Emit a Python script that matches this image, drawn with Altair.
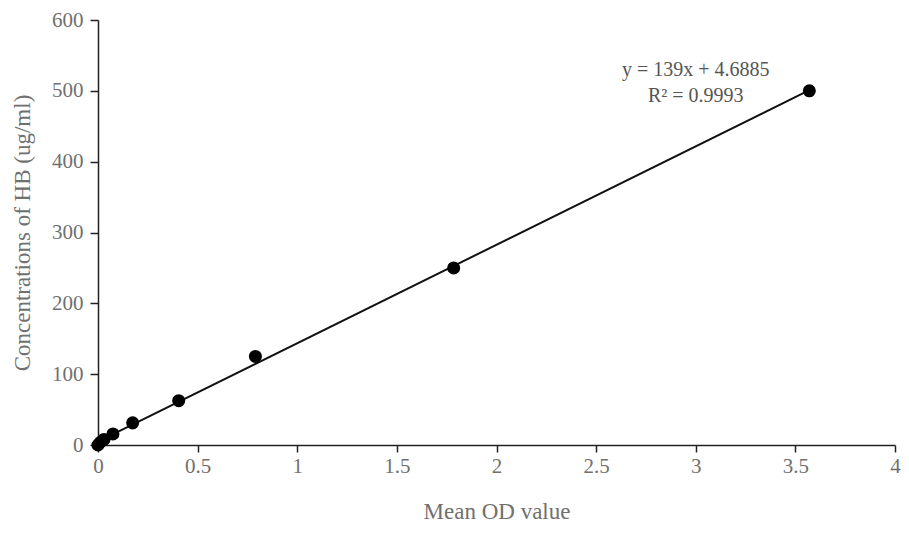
import altair as alt
import pandas as pd

od = [0.0, 0.012, 0.03, 0.075, 0.174, 0.405, 0.79, 1.785, 3.57]
conc = [0, 3.9, 7.8, 15.6, 31.25, 62.5, 125, 250, 500]
slope = 139
intercept = 4.6885
line_x = [0.0, 3.57]
eq_lines = ["y = 139x + 4.6885", "R² = 0.9993"]
eq_x = [3.0, 3.0]
eq_y = [529, 493]

pts = pd.DataFrame({"od": od, "conc": conc})
fit = pd.DataFrame({"od": line_x, "conc": [slope * v + intercept for v in line_x]})
eq = pd.DataFrame({"t": eq_lines, "x": eq_x, "y": eq_y})

font = "Liberation Serif"
gray = "#707070"
xs = alt.Scale(domain=[0, 4], nice=False, zero=True)
ys = alt.Scale(domain=[0, 600], nice=False)

xaxis = alt.Axis(title="Mean OD value", values=[0, 0.5, 1, 1.5, 2, 2.5, 3, 3.5, 4], format="~g",
                 grid=False, domainColor="#222", domainWidth=1.5, tickColor="#222",
                 tickSize=7, tickWidth=1.5, labelFont=font, labelFontSize=21, labelColor=gray,
                 labelPadding=3, titleFont=font, titleFontSize=23, titleFontWeight="normal",
                 titleColor=gray, titlePadding=24, labelFlush=False)
yaxis = alt.Axis(title="Concentrations of HB (ug/ml)", values=[0, 100, 200, 300, 400, 500, 600],
                 grid=False, domainColor="#222", domainWidth=1.5, tickColor="#222",
                 tickSize=8, tickWidth=1.5, labelFont=font, labelFontSize=21, labelColor=gray,
                 labelPadding=7, titleFont=font, titleFontSize=23, titleFontWeight="normal",
                 titleColor=gray, titlePadding=17, labelFlush=False)

line = alt.Chart(fit).mark_line(color="#111", strokeWidth=2).encode(
    x=alt.X("od:Q", scale=xs, axis=xaxis),
    y=alt.Y("conc:Q", scale=ys, axis=yaxis),
)
points = alt.Chart(pts).mark_circle(color="#000", opacity=1, size=170).encode(
    x=alt.X("od:Q", scale=xs),
    y=alt.Y("conc:Q", scale=ys),
)
text = alt.Chart(eq).mark_text(font=font, fontSize=20, color="#555").encode(
    x=alt.X("x:Q", scale=xs),
    y=alt.Y("y:Q", scale=ys),
    text="t:N",
)

chart = alt.layer(line, points, text).properties(
    width=797, height=425,
    autosize=alt.AutoSizeParams(type="none"),
    padding={"left": 90, "top": 12, "right": 6, "bottom": 80},
).configure_view(stroke=None)

chart.save("out.html", embed_options={"renderer": "svg", "actions": False})
